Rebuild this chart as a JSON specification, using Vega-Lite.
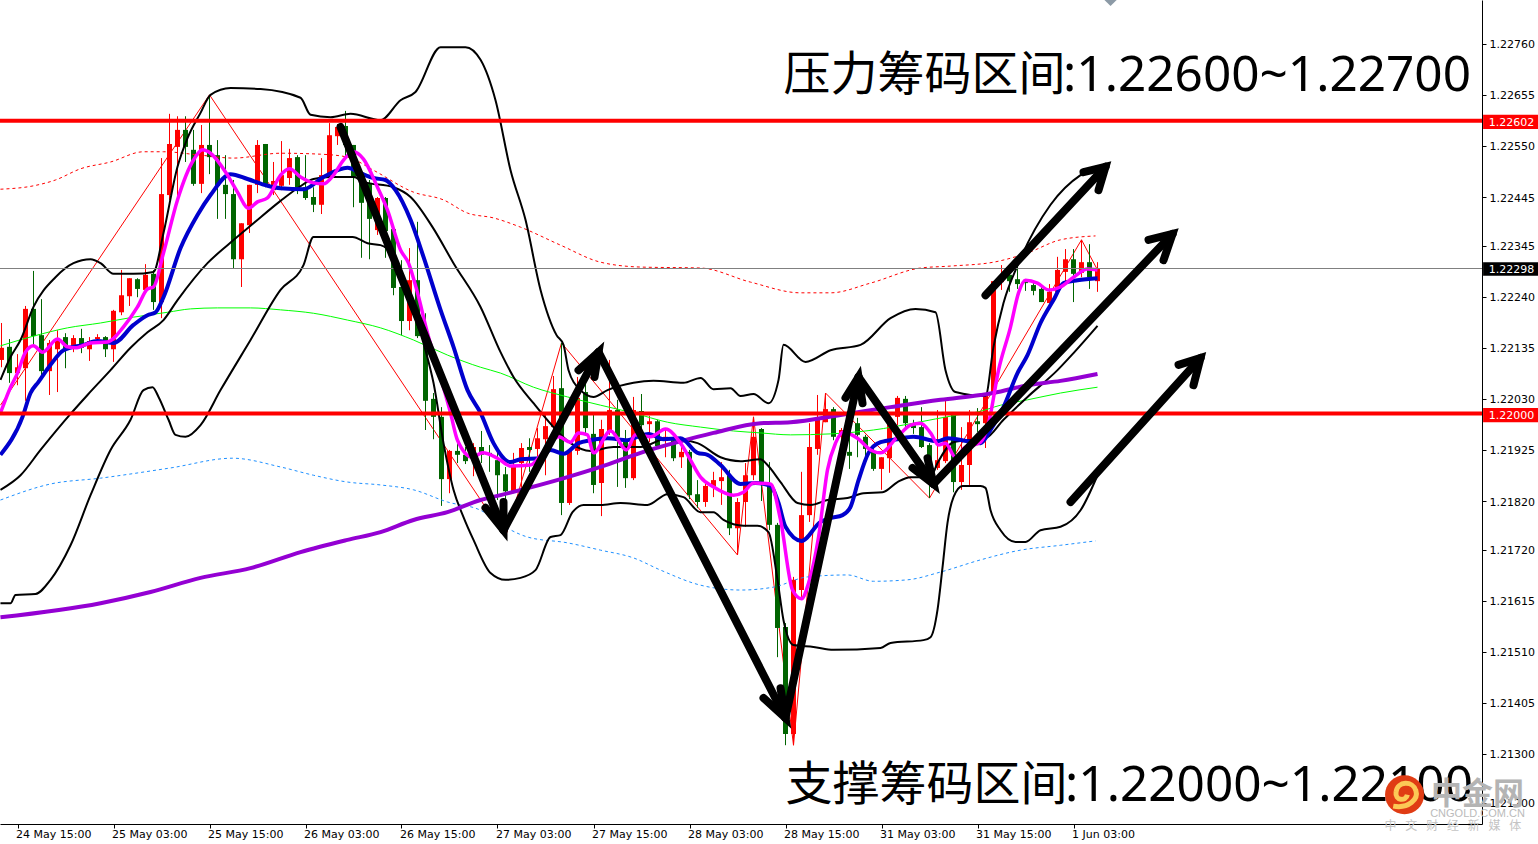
{"$schema":"https://vega.github.io/schema/vega-lite/v6.json","autosize":{"type":"none"},"padding":{"left":0,"top":0,"right":56,"bottom":20},"width":1482,"height":824,"background":"white","config":{"view":{"stroke":null}},
"datasets":{
"candles":[
{"i":0,"o":1.2211,"h":1.22186,"l":1.22095,"c":1.22135},{"i":1,"o":1.22137,"h":1.22153,"l":1.22063,"c":1.22083},{"i":2,"o":1.22083,"h":1.22122,"l":1.22058,"c":1.22095},{"i":3,"o":1.22093,"h":1.22221,"l":1.22026,"c":1.22215},{"i":4,"o":1.22215,"h":1.22293,"l":1.22137,"c":1.22159},{"i":5,"o":1.22161,"h":1.22235,"l":1.22075,"c":1.22087},{"i":6,"o":1.22087,"h":1.22151,"l":1.22038,"c":1.22145},{"i":7,"o":1.22132,"h":1.22171,"l":1.22044,"c":1.22155},{"i":8,"o":1.22157,"h":1.22165,"l":1.22093,"c":1.22132},{"i":9,"o":1.22135,"h":1.22161,"l":1.22126,"c":1.22155},
{"i":10,"o":1.22155,"h":1.22174,"l":1.22124,"c":1.22135},{"i":11,"o":1.22132,"h":1.22157,"l":1.22108,"c":1.22149},{"i":12,"o":1.22153,"h":1.22163,"l":1.22145,"c":1.22157},{"i":13,"o":1.22157,"h":1.22159,"l":1.22116,"c":1.22132},{"i":14,"o":1.22132,"h":1.22213,"l":1.22106,"c":1.22211},{"i":15,"o":1.22208,"h":1.22295,"l":1.22202,"c":1.22243},{"i":16,"o":1.22241,"h":1.22278,"l":1.22221,"c":1.22278},{"i":17,"o":1.22276,"h":1.22278,"l":1.22239,"c":1.22256},{"i":18,"o":1.22254,"h":1.22307,"l":1.2225,"c":1.22285},{"i":19,"o":1.22287,"h":1.22295,"l":1.22213,"c":1.22229},
{"i":20,"o":1.22229,"h":1.22525,"l":1.22196,"c":1.22451},{"i":21,"o":1.22449,"h":1.22616,"l":1.22439,"c":1.22554},{"i":22,"o":1.22548,"h":1.22611,"l":1.22439,"c":1.22583},{"i":23,"o":1.22583,"h":1.22611,"l":1.22517,"c":1.22548},{"i":24,"o":1.22542,"h":1.22583,"l":1.22468,"c":1.22472},{"i":25,"o":1.22472,"h":1.22593,"l":1.22453,"c":1.22552},{"i":26,"o":1.22552,"h":1.22655,"l":1.22492,"c":1.22527},{"i":27,"o":1.22531,"h":1.22562,"l":1.224,"c":1.22468},{"i":28,"o":1.2247,"h":1.22531,"l":1.224,"c":1.22451},{"i":29,"o":1.22451,"h":1.2248,"l":1.22299,"c":1.22317},
{"i":30,"o":1.22317,"h":1.22391,"l":1.2226,"c":1.22391},{"i":31,"o":1.22387,"h":1.2247,"l":1.22371,"c":1.2247},{"i":32,"o":1.2247,"h":1.22562,"l":1.22453,"c":1.22552},{"i":33,"o":1.22554,"h":1.22554,"l":1.22465,"c":1.22468},{"i":34,"o":1.22459,"h":1.22517,"l":1.22449,"c":1.22478},{"i":35,"o":1.22468,"h":1.2256,"l":1.22459,"c":1.2249},{"i":36,"o":1.22484,"h":1.22544,"l":1.2247,"c":1.22525},{"i":37,"o":1.22527,"h":1.22531,"l":1.22451,"c":1.22463},{"i":38,"o":1.22465,"h":1.22531,"l":1.22439,"c":1.22443},{"i":39,"o":1.22445,"h":1.22465,"l":1.22414,"c":1.22429},
{"i":40,"o":1.22429,"h":1.22525,"l":1.2241,"c":1.2249},{"i":41,"o":1.22488,"h":1.22597,"l":1.22484,"c":1.22572},{"i":42,"o":1.2257,"h":1.22595,"l":1.22552,"c":1.22589},{"i":43,"o":1.22591,"h":1.22622,"l":1.22527,"c":1.22552},{"i":44,"o":1.22552,"h":1.22552,"l":1.22424,"c":1.22484},{"i":45,"o":1.22486,"h":1.2249,"l":1.2232,"c":1.22433},{"i":46,"o":1.22474,"h":1.2248,"l":1.22317,"c":1.224},{"i":47,"o":1.22377,"h":1.22445,"l":1.22367,"c":1.22443},{"i":48,"o":1.22443,"h":1.22445,"l":1.2232,"c":1.22375},{"i":49,"o":1.22379,"h":1.22383,"l":1.22243,"c":1.22258},
{"i":50,"o":1.2226,"h":1.22315,"l":1.22161,"c":1.2219},{"i":51,"o":1.2219,"h":1.2234,"l":1.22171,"c":1.22274},{"i":52,"o":1.22274,"h":1.22394,"l":1.22155,"c":1.22159},{"i":53,"o":1.22161,"h":1.22206,"l":1.21966,"c":1.22026},{"i":54,"o":1.2203,"h":1.22042,"l":1.21947,"c":1.21993},{"i":55,"o":1.21993,"h":1.22013,"l":1.2181,"c":1.21865},{"i":56,"o":1.21865,"h":1.21925,"l":1.21836,"c":1.21923},{"i":57,"o":1.21923,"h":1.21939,"l":1.21898,"c":1.21915},{"i":58,"o":1.21915,"h":1.21931,"l":1.21896,"c":1.21902},{"i":59,"o":1.2191,"h":1.21939,"l":1.21871,"c":1.21931},
{"i":60,"o":1.21931,"h":1.21964,"l":1.21898,"c":1.21915},{"i":61,"o":1.21919,"h":1.21935,"l":1.2188,"c":1.21915},{"i":62,"o":1.21904,"h":1.21923,"l":1.21822,"c":1.21873},{"i":63,"o":1.21875,"h":1.2189,"l":1.21746,"c":1.2184},{"i":64,"o":1.2184,"h":1.21919,"l":1.21836,"c":1.21892},{"i":65,"o":1.21898,"h":1.21939,"l":1.21847,"c":1.21929},{"i":66,"o":1.21931,"h":1.21949,"l":1.2188,"c":1.21925},{"i":67,"o":1.21927,"h":1.2197,"l":1.21908,"c":1.21949},{"i":68,"o":1.21947,"h":1.21999,"l":1.21873,"c":1.21974},{"i":69,"o":1.21972,"h":1.22077,"l":1.2196,"c":1.2205},
{"i":70,"o":1.22052,"h":1.22145,"l":1.21791,"c":1.21816},{"i":71,"o":1.21816,"h":1.21925,"l":1.21812,"c":1.21925},{"i":72,"o":1.21923,"h":1.22075,"l":1.21915,"c":1.22032},{"i":73,"o":1.22044,"h":1.22069,"l":1.2196,"c":1.2197},{"i":74,"o":1.21958,"h":1.21997,"l":1.21836,"c":1.21853},{"i":75,"o":1.21857,"h":1.21987,"l":1.21789,"c":1.21968},{"i":76,"o":1.21962,"h":1.2211,"l":1.21956,"c":1.22007},{"i":77,"o":1.22007,"h":1.22028,"l":1.21849,"c":1.21952},{"i":78,"o":1.21945,"h":1.21966,"l":1.21847,"c":1.21867},{"i":79,"o":1.21867,"h":1.22034,"l":1.21863,"c":1.22007},
{"i":80,"o":1.22005,"h":1.2204,"l":1.21956,"c":1.21976},{"i":81,"o":1.21978,"h":1.21995,"l":1.21941,"c":1.21984},{"i":82,"o":1.21984,"h":1.21987,"l":1.21929,"c":1.21933},{"i":83,"o":1.21945,"h":1.21966,"l":1.2191,"c":1.21952},{"i":84,"o":1.21945,"h":1.21949,"l":1.21902,"c":1.21908},{"i":85,"o":1.2191,"h":1.21945,"l":1.21888,"c":1.21921},{"i":86,"o":1.21921,"h":1.21925,"l":1.21824,"c":1.21832},{"i":87,"o":1.21834,"h":1.21863,"l":1.21806,"c":1.21818},{"i":88,"o":1.21818,"h":1.21863,"l":1.21808,"c":1.21851},{"i":89,"o":1.21849,"h":1.2188,"l":1.21828,"c":1.21863},
{"i":90,"o":1.21861,"h":1.219,"l":1.21812,"c":1.21869},{"i":91,"o":1.21873,"h":1.21884,"l":1.2175,"c":1.21764},{"i":92,"o":1.21764,"h":1.21826,"l":1.21709,"c":1.21818},{"i":93,"o":1.21818,"h":1.21898,"l":1.21767,"c":1.21873},{"i":94,"o":1.21873,"h":1.21993,"l":1.21863,"c":1.21952},{"i":95,"o":1.21968,"h":1.2197,"l":1.2182,"c":1.21857},{"i":96,"o":1.21857,"h":1.219,"l":1.2176,"c":1.21771},{"i":97,"o":1.21771,"h":1.21775,"l":1.21499,"c":1.21559},{"i":98,"o":1.21561,"h":1.21569,"l":1.21318,"c":1.21341},{"i":99,"o":1.21341,"h":1.21664,"l":1.21318,"c":1.21658},
{"i":100,"o":1.21637,"h":1.2188,"l":1.21623,"c":1.21791},{"i":101,"o":1.21791,"h":1.2198,"l":1.21777,"c":1.21931},{"i":102,"o":1.21927,"h":1.22038,"l":1.21915,"c":1.21987},{"i":103,"o":1.21982,"h":1.22042,"l":1.21982,"c":1.22009},{"i":104,"o":1.22009,"h":1.22013,"l":1.21945,"c":1.21952},{"i":105,"o":1.21952,"h":1.2197,"l":1.21935,"c":1.21966},{"i":106,"o":1.21921,"h":1.21966,"l":1.21886,"c":1.21913},{"i":107,"o":1.2198,"h":1.21991,"l":1.2191,"c":1.21956},{"i":108,"o":1.21952,"h":1.21956,"l":1.21898,"c":1.21927},{"i":109,"o":1.21921,"h":1.21935,"l":1.21882,"c":1.21886},
{"i":110,"o":1.21886,"h":1.2191,"l":1.21843,"c":1.2191},{"i":111,"o":1.21908,"h":1.22001,"l":1.21878,"c":1.21987},{"i":112,"o":1.21993,"h":1.22036,"l":1.21976,"c":1.22032},{"i":113,"o":1.2203,"h":1.22036,"l":1.21972,"c":1.2198},{"i":114,"o":1.21976,"h":1.21987,"l":1.21958,"c":1.2197},{"i":115,"o":1.21972,"h":1.22013,"l":1.21929,"c":1.21931},{"i":116,"o":1.21935,"h":1.21939,"l":1.21826,"c":1.21884},{"i":117,"o":1.21888,"h":1.22007,"l":1.21884,"c":1.21904},{"i":118,"o":1.21902,"h":1.22026,"l":1.21898,"c":1.21993},{"i":119,"o":1.21997,"h":1.22001,"l":1.21838,"c":1.21859},
{"i":120,"o":1.21859,"h":1.21972,"l":1.21843,"c":1.21894},{"i":121,"o":1.21894,"h":1.22007,"l":1.21853,"c":1.21982},{"i":122,"o":1.21984,"h":1.22011,"l":1.21962,"c":1.21978},{"i":123,"o":1.2198,"h":1.22042,"l":1.21929,"c":1.22038},{"i":124,"o":1.22038,"h":1.22272,"l":1.22034,"c":1.22272},{"i":125,"o":1.2227,"h":1.22305,"l":1.22254,"c":1.22282},{"i":126,"o":1.22285,"h":1.22291,"l":1.2225,"c":1.22272},{"i":127,"o":1.22276,"h":1.22311,"l":1.22256,"c":1.22266},{"i":128,"o":1.22272,"h":1.22274,"l":1.22252,"c":1.22268},{"i":129,"o":1.22264,"h":1.22268,"l":1.22243,"c":1.22252},
{"i":130,"o":1.22256,"h":1.22264,"l":1.22229,"c":1.22229},{"i":131,"o":1.22227,"h":1.22266,"l":1.22227,"c":1.2225},{"i":132,"o":1.2225,"h":1.22322,"l":1.22248,"c":1.22295},{"i":133,"o":1.22291,"h":1.22338,"l":1.2227,"c":1.22317},{"i":134,"o":1.22317,"h":1.22338,"l":1.22229,"c":1.22287},{"i":135,"o":1.22289,"h":1.22357,"l":1.2228,"c":1.22311},{"i":136,"o":1.22311,"h":1.22348,"l":1.22256,"c":1.2228},{"i":137,"o":1.22272,"h":1.22311,"l":1.2225,"c":1.22298}],
"bb":[
{"s":"u","i":-0.13,"p":1.22069},{"s":"u","i":1.13,"p":1.22116},{"s":"u","i":2.38,"p":1.22151},{"s":"u","i":4,"p":1.22219},{"s":"u","i":6.75,"p":1.2228},{"s":"u","i":9,"p":1.22309},{"s":"u","i":11.13,"p":1.22317},{"s":"u","i":12.38,"p":1.22309},{"s":"u","i":14,"p":1.22287},{"s":"u","i":16.5,"p":1.22287},{"s":"u","i":19,"p":1.22291},{"s":"u","i":20.25,"p":1.22371},{"s":"u","i":22,"p":1.22507},{"s":"u","i":23.25,"p":1.22566},{"s":"u","i":24.88,"p":1.22618},{"s":"u","i":26.13,"p":1.22655},{"s":"u","i":28.63,"p":1.22669},{"s":"u","i":32.38,"p":1.22667},{"s":"u","i":37.38,"p":1.22649},{"s":"u","i":38.63,"p":1.22614},{"s":"u","i":41.13,"p":1.22609},{"s":"u","i":43.63,"p":1.22616},{"s":"u","i":47.38,"p":1.22603},{"s":"u","i":49.88,"p":1.22644},{"s":"u","i":51.75,"p":1.22661},{"s":"u","i":54.88,"p":1.22753},{"s":"u","i":58,"p":1.22753},{"s":"u","i":59.88,"p":1.22727},{"s":"u","i":61.75,"p":1.22644},{"s":"u","i":63.63,"p":1.225},{"s":"u","i":65.5,"p":1.22398},{"s":"u","i":67.38,"p":1.22254},{"s":"u","i":69.38,"p":1.22161},{"s":"u","i":70.25,"p":1.22141},{"s":"u","i":70.88,"p":1.22089},{"s":"u","i":72.38,"p":1.22048},{"s":"u","i":74,"p":1.22034},{"s":"u","i":75.75,"p":1.22048},{"s":"u","i":79,"p":1.22063},{"s":"u","i":81.5,"p":1.22067},{"s":"u","i":85.25,"p":1.22063},{"s":"u","i":87.38,"p":1.22073},{"s":"u","i":89,"p":1.2205},{"s":"u","i":91.13,"p":1.22052},{"s":"u","i":92.38,"p":1.22036},{"s":"u","i":94,"p":1.2204},{"s":"u","i":95.88,"p":1.22021},{"s":"u","i":97.13,"p":1.22069},{"s":"u","i":97.75,"p":1.22141},{"s":"u","i":100.5,"p":1.22106},{"s":"u","i":103.63,"p":1.2213},{"s":"u","i":107.38,"p":1.22141},{"s":"u","i":111.13,"p":1.22196},{"s":"u","i":114.25,"p":1.22215},{"s":"u","i":116.75,"p":1.22208},{"s":"u","i":118,"p":1.22089},{"s":"u","i":119.25,"p":1.22044},{"s":"u","i":123,"p":1.22036},{"s":"u","i":124,"p":1.22137},{"s":"u","i":125.25,"p":1.22227},{"s":"u","i":127.13,"p":1.22309},{"s":"u","i":131.13,"p":1.22429},{"s":"u","i":134.88,"p":1.2249},{"s":"u","i":137,"p":1.22507},
{"s":"m","i":-0.13,"p":1.21843},{"s":"m","i":2.38,"p":1.21873},{"s":"m","i":4.88,"p":1.21925},{"s":"m","i":8.63,"p":1.21999},{"s":"m","i":10.75,"p":1.22038},{"s":"m","i":13.63,"p":1.22089},{"s":"m","i":16.13,"p":1.22135},{"s":"m","i":18.25,"p":1.22167},{"s":"m","i":20.25,"p":1.22192},{"s":"m","i":22,"p":1.22233},{"s":"m","i":25.75,"p":1.22309},{"s":"m","i":28.25,"p":1.22346},{"s":"m","i":31.5,"p":1.22391},{"s":"m","i":34.88,"p":1.22437},{"s":"m","i":37,"p":1.22463},{"s":"m","i":39,"p":1.22482},{"s":"m","i":41.13,"p":1.22486},{"s":"m","i":44,"p":1.22486},{"s":"m","i":45.25,"p":1.22476},{"s":"m","i":49,"p":1.22465},{"s":"m","i":51.13,"p":1.22445},{"s":"m","i":53.88,"p":1.22383},{"s":"m","i":56.5,"p":1.22309},{"s":"m","i":59.88,"p":1.22219},{"s":"m","i":62.38,"p":1.22126},{"s":"m","i":64,"p":1.22075},{"s":"m","i":66.5,"p":1.22021},{"s":"m","i":69,"p":1.21972},{"s":"m","i":71.13,"p":1.21939},{"s":"m","i":73.63,"p":1.21923},{"s":"m","i":76.5,"p":1.21931},{"s":"m","i":79.88,"p":1.21931},{"s":"m","i":83.25,"p":1.21949},{"s":"m","i":87,"p":1.21939},{"s":"m","i":89.88,"p":1.2191},{"s":"m","i":92.38,"p":1.21902},{"s":"m","i":94.88,"p":1.21906},{"s":"m","i":95.75,"p":1.21894},{"s":"m","i":97.38,"p":1.21859},{"s":"m","i":99.5,"p":1.21816},{"s":"m","i":101.13,"p":1.21812},{"s":"m","i":103.25,"p":1.21822},{"s":"m","i":105.75,"p":1.21826},{"s":"m","i":107.75,"p":1.21836},{"s":"m","i":110.13,"p":1.21838},{"s":"m","i":112,"p":1.21859},{"s":"m","i":113.63,"p":1.21869},{"s":"m","i":116.13,"p":1.21869},{"s":"m","i":117,"p":1.21898},{"s":"m","i":119,"p":1.21941},{"s":"m","i":123,"p":1.21949},{"s":"m","i":125.25,"p":1.21987},{"s":"m","i":128.25,"p":1.22034},{"s":"m","i":132,"p":1.22089},{"s":"m","i":134,"p":1.22124},{"s":"m","i":137,"p":1.2218},
{"s":"l","i":-0.13,"p":1.2161},{"s":"l","i":1.13,"p":1.2161},{"s":"l","i":1.75,"p":1.21627},{"s":"l","i":4.25,"p":1.21629},{"s":"l","i":6.13,"p":1.21658},{"s":"l","i":8.63,"p":1.21729},{"s":"l","i":11.13,"p":1.21832},{"s":"l","i":13.63,"p":1.21925},{"s":"l","i":16.13,"p":1.21987},{"s":"l","i":17.75,"p":1.22048},{"s":"l","i":18.88,"p":1.22054},{"s":"l","i":19.63,"p":1.22034},{"s":"l","i":20.88,"p":1.21987},{"s":"l","i":21.75,"p":1.21956},{"s":"l","i":23,"p":1.21952},{"s":"l","i":24.88,"p":1.21976},{"s":"l","i":27.38,"p":1.22048},{"s":"l","i":31.13,"p":1.22151},{"s":"l","i":34.88,"p":1.22254},{"s":"l","i":37.75,"p":1.22305},{"s":"l","i":39,"p":1.22363},{"s":"l","i":43.88,"p":1.22363},{"s":"l","i":45.75,"p":1.2235},{"s":"l","i":47.38,"p":1.22346},{"s":"l","i":49,"p":1.22322},{"s":"l","i":51.13,"p":1.22223},{"s":"l","i":53,"p":1.2213},{"s":"l","i":54,"p":1.22063},{"s":"l","i":55.25,"p":1.21939},{"s":"l","i":56.5,"p":1.21843},{"s":"l","i":57.75,"p":1.21787},{"s":"l","i":59,"p":1.2174},{"s":"l","i":61.13,"p":1.21672},{"s":"l","i":63,"p":1.21658},{"s":"l","i":64.88,"p":1.21662},{"s":"l","i":66.75,"p":1.21678},{"s":"l","i":68.63,"p":1.21746},{"s":"l","i":69.88,"p":1.2175},{"s":"l","i":71.38,"p":1.21797},{"s":"l","i":72.75,"p":1.21812},{"s":"l","i":74.88,"p":1.21812},{"s":"l","i":77.38,"p":1.21816},{"s":"l","i":80.75,"p":1.21812},{"s":"l","i":83.25,"p":1.21834},{"s":"l","i":85.25,"p":1.21828},{"s":"l","i":87.38,"p":1.21797},{"s":"l","i":89,"p":1.21797},{"s":"l","i":90.25,"p":1.21781},{"s":"l","i":92.75,"p":1.21769},{"s":"l","i":94.5,"p":1.21769},{"s":"l","i":95.88,"p":1.21756},{"s":"l","i":97,"p":1.21658},{"s":"l","i":97.75,"p":1.21575},{"s":"l","i":99,"p":1.21524},{"s":"l","i":101.5,"p":1.2152},{"s":"l","i":104,"p":1.21514},{"s":"l","i":109.88,"p":1.21518},{"s":"l","i":111.13,"p":1.21528},{"s":"l","i":115.25,"p":1.21534},{"s":"l","i":116.13,"p":1.2154},{"s":"l","i":117,"p":1.21596},{"s":"l","i":117.63,"p":1.21684},{"s":"l","i":118.25,"p":1.21775},{"s":"l","i":119,"p":1.21828},{"s":"l","i":120.13,"p":1.21851},{"s":"l","i":122.38,"p":1.21851},{"s":"l","i":123,"p":1.21847},{"s":"l","i":123.63,"p":1.21801},{"s":"l","i":124.88,"p":1.2176},{"s":"l","i":126.75,"p":1.21736},{"s":"l","i":128,"p":1.21736},{"s":"l","i":129.88,"p":1.2176},{"s":"l","i":132.38,"p":1.21767},{"s":"l","i":134.88,"p":1.21801},{"s":"l","i":137,"p":1.21873}],
"blue":[{"i":-0.13,"p":1.21915},{"i":2.63,"p":1.21993},{"i":3.63,"p":1.22042},{"i":4.63,"p":1.22065},{"i":6.13,"p":1.221},{"i":7.75,"p":1.2213},{"i":10.25,"p":1.22141},{"i":12,"p":1.22149},{"i":14,"p":1.22145},{"i":16.5,"p":1.22182},{"i":18.25,"p":1.22202},{"i":19.25,"p":1.22208},{"i":20.25,"p":1.22239},{"i":22.38,"p":1.2234},{"i":24.5,"p":1.22408},{"i":26.13,"p":1.22449},{"i":28.63,"p":1.22492},{"i":30.75,"p":1.22482},{"i":33.25,"p":1.22468},{"i":34.88,"p":1.22463},{"i":37.75,"p":1.22461},{"i":40.25,"p":1.22486},{"i":43.25,"p":1.22505},{"i":44.88,"p":1.22494},{"i":46.5,"p":1.22484},{"i":48,"p":1.2248},{"i":49.25,"p":1.22459},{"i":51.13,"p":1.22398},{"i":52.75,"p":1.22322},{"i":54.88,"p":1.22213},{"i":56.5,"p":1.22137},{"i":58.25,"p":1.22048},{"i":59.88,"p":1.22001},{"i":61.5,"p":1.21939},{"i":63.63,"p":1.219},{"i":64.88,"p":1.21906},{"i":67.38,"p":1.21908},{"i":68.63,"p":1.21925},{"i":70.25,"p":1.21917},{"i":72.13,"p":1.21939},{"i":73.63,"p":1.21945},{"i":75.75,"p":1.21949},{"i":78.25,"p":1.21945},{"i":79.5,"p":1.21952},{"i":80.88,"p":1.21958},{"i":82.75,"p":1.21947},{"i":84.88,"p":1.21949},{"i":87,"p":1.21919},{"i":88.25,"p":1.21915},{"i":89.88,"p":1.21894},{"i":92.38,"p":1.21855},{"i":94.25,"p":1.21857},{"i":96.13,"p":1.21851},{"i":97.13,"p":1.21816},{"i":98,"p":1.21767},{"i":100,"p":1.21738},{"i":102.38,"p":1.21777},{"i":103.63,"p":1.21785},{"i":105.13,"p":1.21791},{"i":106.13,"p":1.21808},{"i":107.13,"p":1.21863},{"i":108.38,"p":1.21919},{"i":109.88,"p":1.21941},{"i":112,"p":1.21947},{"i":114,"p":1.21952},{"i":117,"p":1.21943},{"i":118.25,"p":1.21949},{"i":120.75,"p":1.21943},{"i":122.38,"p":1.21939},{"i":123.63,"p":1.21966},{"i":125.25,"p":1.22013},{"i":127,"p":1.22083},{"i":128.25,"p":1.2212},{"i":129.88,"p":1.22186},{"i":131.5,"p":1.22233},{"i":132.75,"p":1.22268},{"i":134.5,"p":1.22274},{"i":137,"p":1.22278}],
"magenta":[{"i":-0.13,"p":1.22001},{"i":1.13,"p":1.22054},{"i":2,"p":1.22083},{"i":3,"p":1.22126},{"i":4,"p":1.22139},{"i":5.13,"p":1.22126},{"i":7,"p":1.22153},{"i":8.25,"p":1.22137},{"i":9.25,"p":1.22135},{"i":11.13,"p":1.22145},{"i":13.25,"p":1.22147},{"i":15.25,"p":1.22178},{"i":17,"p":1.22219},{"i":18.25,"p":1.22256},{"i":19,"p":1.2226},{"i":20.25,"p":1.2233},{"i":22,"p":1.22439},{"i":24,"p":1.22521},{"i":25.13,"p":1.22542},{"i":26.13,"p":1.22535},{"i":28.25,"p":1.2249},{"i":29.5,"p":1.22455},{"i":30.88,"p":1.22422},{"i":32,"p":1.22435},{"i":33.25,"p":1.22443},{"i":34.88,"p":1.2249},{"i":36,"p":1.22503},{"i":37.38,"p":1.22486},{"i":39,"p":1.22474},{"i":40.25,"p":1.22472},{"i":41.5,"p":1.2249},{"i":42.75,"p":1.22521},{"i":44,"p":1.22538},{"i":45.25,"p":1.22523},{"i":47,"p":1.22465},{"i":48.25,"p":1.22418},{"i":49.88,"p":1.22336},{"i":50.88,"p":1.22309},{"i":52,"p":1.22248},{"i":53.25,"p":1.22165},{"i":54.88,"p":1.22075},{"i":56.13,"p":1.22001},{"i":57,"p":1.21945},{"i":58.88,"p":1.2191},{"i":60.13,"p":1.21919},{"i":62,"p":1.21908},{"i":63.63,"p":1.21892},{"i":66.13,"p":1.21894},{"i":67.75,"p":1.21921},{"i":69.63,"p":1.21952},{"i":71.13,"p":1.21941},{"i":72.13,"p":1.2196},{"i":73.25,"p":1.21956},{"i":74,"p":1.21919},{"i":76.13,"p":1.21964},{"i":78.13,"p":1.21925},{"i":79.25,"p":1.21956},{"i":81.13,"p":1.21952},{"i":83,"p":1.21968},{"i":84.88,"p":1.21939},{"i":86.13,"p":1.21904},{"i":87.38,"p":1.21869},{"i":89,"p":1.21849},{"i":91.5,"p":1.21832},{"i":92.75,"p":1.21838},{"i":94,"p":1.21857},{"i":96.13,"p":1.21855},{"i":97.38,"p":1.21781},{"i":98.88,"p":1.21637},{"i":100,"p":1.21619},{"i":100.88,"p":1.21651},{"i":102.13,"p":1.21746},{"i":103.25,"p":1.21884},{"i":104.25,"p":1.21939},{"i":105.25,"p":1.21962},{"i":107,"p":1.21949},{"i":108.63,"p":1.21925},{"i":109.88,"p":1.21919},{"i":112,"p":1.21952},{"i":113.63,"p":1.21976},{"i":114.88,"p":1.2198},{"i":116.13,"p":1.2196},{"i":117.13,"p":1.21935},{"i":118,"p":1.21939},{"i":119.25,"p":1.2191},{"i":120.5,"p":1.21931},{"i":121.5,"p":1.21935},{"i":122.38,"p":1.21941},{"i":123.38,"p":1.2198},{"i":124.63,"p":1.22089},{"i":126.13,"p":1.22178},{"i":127.13,"p":1.22248},{"i":128,"p":1.22274},{"i":129.5,"p":1.22268},{"i":130.88,"p":1.22254},{"i":132.38,"p":1.2226},{"i":134,"p":1.2228},{"i":135.75,"p":1.22297},{"i":137,"p":1.22295}],
"purple":[{"i":-0.13,"p":1.21581},{"i":12.38,"p":1.2161},{"i":18.63,"p":1.21633},{"i":24.88,"p":1.21662},{"i":31.13,"p":1.21682},{"i":37.38,"p":1.21715},{"i":43.25,"p":1.2174},{"i":47.38,"p":1.21756},{"i":51.5,"p":1.21781},{"i":55.75,"p":1.21797},{"i":59.88,"p":1.21822},{"i":62.38,"p":1.21832},{"i":70.75,"p":1.21869},{"i":74.88,"p":1.2189},{"i":80.25,"p":1.21921},{"i":84.5,"p":1.21941},{"i":89,"p":1.2196},{"i":94.88,"p":1.2198},{"i":98.63,"p":1.21982},{"i":104.88,"p":1.21997},{"i":111.13,"p":1.22013},{"i":117.38,"p":1.22028},{"i":122.38,"p":1.22038},{"i":124,"p":1.22042},{"i":128.25,"p":1.22058},{"i":132.38,"p":1.22067},{"i":137,"p":1.22081}],
"green":[{"i":-0.13,"p":1.22139},{"i":4,"p":1.22159},{"i":8.25,"p":1.22176},{"i":12.38,"p":1.22186},{"i":16.5,"p":1.22198},{"i":20.75,"p":1.22208},{"i":23.63,"p":1.22215},{"i":27,"p":1.22217},{"i":31.13,"p":1.22217},{"i":34.88,"p":1.22213},{"i":39,"p":1.22206},{"i":43.25,"p":1.22192},{"i":47.38,"p":1.22176},{"i":51.5,"p":1.22151},{"i":55.75,"p":1.2212},{"i":59.88,"p":1.22095},{"i":62.38,"p":1.22083},{"i":66.5,"p":1.22054},{"i":70.75,"p":1.22034},{"i":74.88,"p":1.22017},{"i":79,"p":1.22001},{"i":83.25,"p":1.21982},{"i":87.38,"p":1.21972},{"i":91.5,"p":1.21964},{"i":94.88,"p":1.2196},{"i":98.63,"p":1.21956},{"i":103.63,"p":1.21958},{"i":109,"p":1.21966},{"i":114,"p":1.2198},{"i":119.5,"p":1.21997},{"i":122,"p":1.22003},{"i":124.88,"p":1.22017},{"i":128.25,"p":1.22028},{"i":132.38,"p":1.22042},{"i":137,"p":1.22054}],
"redEnv":[{"i":-0.13,"p":1.22461},{"i":4,"p":1.22468},{"i":6.75,"p":1.2248},{"i":9.88,"p":1.22503},{"i":13.63,"p":1.22517},{"i":17.75,"p":1.22538},{"i":20.25,"p":1.22538},{"i":24.88,"p":1.22531},{"i":29,"p":1.22525},{"i":34.88,"p":1.22535},{"i":39.88,"p":1.22533},{"i":43.25,"p":1.22527},{"i":46.5,"p":1.225},{"i":51.5,"p":1.22455},{"i":55.25,"p":1.22439},{"i":58.25,"p":1.22412},{"i":61.5,"p":1.22402},{"i":64.88,"p":1.22383},{"i":69.88,"p":1.22346},{"i":74.88,"p":1.22311},{"i":79.88,"p":1.22301},{"i":87.38,"p":1.22299},{"i":93.63,"p":1.2227},{"i":99.88,"p":1.22248},{"i":103.63,"p":1.22248},{"i":108.63,"p":1.22268},{"i":114.88,"p":1.22299},{"i":118.63,"p":1.22303},{"i":124,"p":1.22311},{"i":128.25,"p":1.2233},{"i":132.38,"p":1.22357},{"i":136.75,"p":1.22365}],
"blueEnv":[{"i":-0.13,"p":1.21822},{"i":6.13,"p":1.21855},{"i":12.38,"p":1.21867},{"i":21.13,"p":1.21888},{"i":28.88,"p":1.21908},{"i":34.88,"p":1.2189},{"i":39,"p":1.21873},{"i":43.25,"p":1.21859},{"i":47.38,"p":1.21853},{"i":51.5,"p":1.21843},{"i":55.75,"p":1.21818},{"i":59.88,"p":1.21801},{"i":63.25,"p":1.21764},{"i":65.75,"p":1.21746},{"i":70.75,"p":1.21734},{"i":74.88,"p":1.21719},{"i":79,"p":1.21703},{"i":82.38,"p":1.21678},{"i":87.38,"p":1.21647},{"i":92.38,"p":1.21637},{"i":96.5,"p":1.21643},{"i":100.75,"p":1.21664},{"i":105.75,"p":1.21668},{"i":109,"p":1.21655},{"i":113.25,"p":1.21658},{"i":117.38,"p":1.21674},{"i":122.38,"p":1.21699},{"i":127.38,"p":1.21719},{"i":132.38,"p":1.21729},{"i":136.75,"p":1.21738}],
"zigzag":[{"i":-0.13,"p":1.22017},{"i":26,"p":1.22655},{"i":63,"p":1.21746},{"i":70,"p":1.22145},{"i":92,"p":1.21709},{"i":94,"p":1.21993},{"i":99,"p":1.21318},{"i":103,"p":1.22042},{"i":116,"p":1.21826},{"i":135,"p":1.22357},{"i":137,"p":1.22295}],
"arrows":[
{"g":"a1","n":1,"i":42.38,"p":1.22589},{"g":"a1","n":2,"i":62.75,"p":1.2176},{"g":"h1","n":1,"i":60.5,"p":1.21806},{"g":"h1","n":2,"i":62.75,"p":1.2176},{"g":"h1","n":3,"i":62.75,"p":1.21818},
{"g":"a2","n":1,"i":62.75,"p":1.2176},{"g":"a2","n":2,"i":74.63,"p":1.22126},{"g":"h2","n":1,"i":72.13,"p":1.22089},{"g":"h2","n":2,"i":74.63,"p":1.22126},{"g":"h2","n":3,"i":74.13,"p":1.22075},
{"g":"a3","n":1,"i":74.63,"p":1.22126},{"g":"a3","n":2,"i":98,"p":1.21374},{"g":"h3","n":1,"i":95.25,"p":1.21415},{"g":"h3","n":2,"i":98,"p":1.21374},{"g":"h3","n":3,"i":97.38,"p":1.21435},
{"g":"a4","n":1,"i":98,"p":1.21374},{"g":"a4","n":2,"i":107.13,"p":1.22075},{"g":"h4","n":1,"i":105.5,"p":1.22032},{"g":"h4","n":2,"i":107.13,"p":1.22075},{"g":"h4","n":3,"i":107.63,"p":1.22021},
{"g":"a5","n":1,"i":107.13,"p":1.22075},{"g":"a5","n":2,"i":116.5,"p":1.21855},{"g":"h5","n":1,"i":113.88,"p":1.21888},{"g":"h5","n":2,"i":116.5,"p":1.21855},{"g":"h5","n":3,"i":115.75,"p":1.21908},
{"g":"a6","n":1,"i":116.5,"p":1.21855},{"g":"a6","n":2,"i":146.38,"p":1.22369},{"g":"h6","n":1,"i":143.38,"p":1.22357},{"g":"h6","n":2,"i":146.38,"p":1.22369},{"g":"h6","n":3,"i":145.25,"p":1.22315},
{"g":"a7","n":1,"i":123,"p":1.22243},{"g":"a7","n":2,"i":138,"p":1.22507},{"g":"h7","n":1,"i":135.25,"p":1.22496},{"g":"h7","n":2,"i":138,"p":1.22507},{"g":"h7","n":3,"i":137.13,"p":1.22459},
{"g":"a8","n":1,"i":133.63,"p":1.21818},{"g":"a8","n":2,"i":149.88,"p":1.22114},{"g":"h8","n":1,"i":147.13,"p":1.221},{"g":"h8","n":2,"i":149.88,"p":1.22114},{"g":"h8","n":3,"i":149,"p":1.22058}],
"tags":[{"t":"1.22602","a":1.22614,"b":1.22585,"m":1.22598,"f":"#ff0000"},{"t":"1.22298","a":1.22311,"b":1.22283,"m":1.22295,"f":"#000000"},{"t":"1.22000","a":1.22011,"b":1.21982,"m":1.21995,"f":"#ff0000"}],
"wmSmall":[{"t":"中","i":173.63,"p":1.21152},{"t":"文","i":176.23,"p":1.21152},{"t":"财","i":178.83,"p":1.21152},{"t":"经","i":181.43,"p":1.21152},{"t":"新","i":184.03,"p":1.21152},{"t":"媒","i":186.63,"p":1.21152},{"t":"体","i":189.23,"p":1.21152}]
},
"layer":[
{"data":{"name":"zigzag"},"mark":{"type":"line","color":"#ff0000","strokeWidth":1},"encoding":{
"x":{"field":"i","type":"quantitative","title":null,"scale":{"domain":[-0.1875,185.0625],"nice":false,"zero":false},"axis":{"orient":"bottom","values":[2,14,26,38,50,62,74,86,98,110,122,134],"labelExpr":"['24 May 15:00','25 May 03:00','25 May 15:00','26 May 03:00','26 May 15:00','27 May 03:00','27 May 15:00','28 May 03:00','28 May 15:00','31 May 03:00','31 May 15:00','1 Jun 03:00'][round((datum.value-2)/12)]","labelAlign":"left","labelFont":"DejaVu Sans","labelFontSize":11,"labelColor":"#000000","labelPadding":0,"labelOffset":-2,"tickSize":4,"tickColor":"#000000","domainColor":"#000000","grid":false,"labelOverlap":false,"labelFlush":false,"labelBound":false,"title":null}},
"y":{"field":"p","type":"quantitative","title":null,"scale":{"domain":[1.21156,1.2285],"nice":false,"zero":false},"axis":{"orient":"right","values":[1.2276,1.22655,1.2255,1.22445,1.22345,1.2224,1.22135,1.2203,1.21925,1.2182,1.2172,1.21615,1.2151,1.21405,1.213,1.212],"format":".5f","labelFont":"DejaVu Sans","labelFontSize":11,"labelColor":"#000000","labelPadding":3,"labelOffset":1,"tickSize":4,"tickColor":"#000000","domainColor":"#000000","grid":false,"labelOverlap":false,"labelFlush":false,"labelBound":false,"title":null}}}},
{"data":{"name":"candles"},"mark":{"type":"rule","strokeWidth":1},"encoding":{"x":{"field":"i","type":"quantitative"},"y":{"field":"l","type":"quantitative"},"y2":{"field":"h"},"color":{"condition":{"test":"datum.c>=datum.o","value":"#ff0000"},"value":"#006400"}}},
{"data":{"name":"candles"},"mark":{"type":"rule","strokeWidth":5},"encoding":{"x":{"field":"i","type":"quantitative"},"y":{"field":"o","type":"quantitative"},"y2":{"field":"c"},"color":{"condition":{"test":"datum.c>=datum.o","value":"#ff0000"},"value":"#006400"}}},
{"data":{"name":"redEnv"},"mark":{"type":"line","color":"#ff0000","strokeWidth":1,"strokeDash":[3,3],"interpolate":"monotone"},"encoding":{"x":{"field":"i","type":"quantitative"},"y":{"field":"p","type":"quantitative"}}},
{"data":{"name":"blueEnv"},"mark":{"type":"line","color":"#1e90ff","strokeWidth":1,"strokeDash":[3,3],"interpolate":"monotone"},"encoding":{"x":{"field":"i","type":"quantitative"},"y":{"field":"p","type":"quantitative"}}},
{"data":{"name":"green"},"mark":{"type":"line","color":"#00ff00","strokeWidth":1,"interpolate":"monotone"},"encoding":{"x":{"field":"i","type":"quantitative"},"y":{"field":"p","type":"quantitative"}}},
{"data":{"name":"bb"},"mark":{"type":"line","color":"#000000","strokeWidth":2,"interpolate":"monotone"},"encoding":{"x":{"field":"i","type":"quantitative"},"y":{"field":"p","type":"quantitative"},"detail":{"field":"s"}}},
{"data":{"name":"purple"},"mark":{"type":"line","color":"#9400d3","strokeWidth":4,"interpolate":"monotone"},"encoding":{"x":{"field":"i","type":"quantitative"},"y":{"field":"p","type":"quantitative"}}},
{"data":{"name":"blue"},"mark":{"type":"line","color":"#0000cd","strokeWidth":4,"interpolate":"monotone"},"encoding":{"x":{"field":"i","type":"quantitative"},"y":{"field":"p","type":"quantitative"}}},
{"data":{"name":"magenta"},"mark":{"type":"line","color":"#ff00ff","strokeWidth":3.5,"interpolate":"monotone"},"encoding":{"x":{"field":"i","type":"quantitative"},"y":{"field":"p","type":"quantitative"}}},
{"data":{"values":[{"p":1.22298}]},"mark":{"type":"rule","color":"#808080","strokeWidth":1},"encoding":{"y":{"field":"p","type":"quantitative"}}},
{"data":{"values":[{"p":1.22602},{"p":1.22}]},"mark":{"type":"rule","color":"#ff0000","strokeWidth":4},"encoding":{"y":{"field":"p","type":"quantitative"}}},
{"data":{"name":"arrows"},"mark":{"type":"line","color":"#000000","strokeWidth":8,"strokeCap":"round","strokeJoin":"miter"},"encoding":{"x":{"field":"i","type":"quantitative"},"y":{"field":"p","type":"quantitative"},"detail":{"field":"g"},"order":{"field":"n"}}},
{"data":{"name":"tags"},"mark":{"type":"rect"},"encoding":{"x":{"datum":185.2},"x2":{"datum":192.2},"y":{"field":"a","type":"quantitative"},"y2":{"field":"b"},"fill":{"field":"f","type":"nominal","scale":null}}},
{"data":{"name":"tags"},"mark":{"type":"text","align":"left","baseline":"middle","font":"DejaVu Sans","fontSize":11,"color":"#ffffff"},"encoding":{"x":{"datum":185.9},"y":{"field":"m","type":"quantitative"},"text":{"field":"t"}}},
{"data":{"values":[{"t":"压力筹码区间","i":97.75,"p":1.22694},{"t":"支撑筹码区间","i":98,"p":1.21234}]},"mark":{"type":"text","align":"left","baseline":"middle","font":"Noto Sans CJK SC","fontSize":47,"color":"#000000"},"encoding":{"x":{"field":"i","type":"quantitative"},"y":{"field":"p","type":"quantitative"},"text":{"field":"t"}}},
{"data":{"values":[{"t":":1.22600~1.22700","i":132.7,"p":1.22694},{"t":":1.22000~1.22100","i":132.95,"p":1.21234}]},"mark":{"type":"text","align":"left","baseline":"middle","font":"Noto Sans","fontSize":49.5,"color":"#000000"},"encoding":{"x":{"field":"i","type":"quantitative"},"y":{"field":"p","type":"quantitative"},"text":{"field":"t"}}},
{"data":{"values":[{"i":138.63,"p":1.2285}]},"mark":{"type":"point","shape":"diamond","filled":true,"size":150,"color":"#8c9aa6","opacity":1},"encoding":{"x":{"field":"i","type":"quantitative"},"y":{"field":"p","type":"quantitative"}}},
{"data":{"values":[{"i":175.38,"p":1.21216}]},"mark":{"type":"point","shape":"circle","filled":true,"size":1520,"color":"#e03c14","opacity":1},"encoding":{"x":{"field":"i","type":"quantitative"},"y":{"field":"p","type":"quantitative"}}},
{"data":{"values":[{"i":175.38,"p":1.21216}]},"mark":{"type":"point","shape":"M-0.8,0.8 C0.3,1 1,0.3 0.8,-0.3 C0.6,-1 -0.5,-1 -0.6,-0.2 C-0.7,0.4 0.1,0.5 0.2,0","filled":false,"size":800,"stroke":"#fcc956","strokeWidth":5,"opacity":1},"encoding":{"x":{"field":"i","type":"quantitative"},"y":{"field":"p","type":"quantitative"}}},
{"data":{"values":[{"t":"中金网","i":184.5,"p":1.21216}]},"mark":{"type":"text","align":"center","baseline":"middle","font":"Noto Sans CJK SC","fontWeight":"bold","fontSize":31,"color":"#b4b4b4"},"encoding":{"x":{"field":"i","type":"quantitative"},"y":{"field":"p","type":"quantitative"},"text":{"field":"t"}}},
{"data":{"values":[{"t":"CNGOLD.COM.CN","i":184.5,"p":1.21177}]},"mark":{"type":"text","align":"center","baseline":"middle","font":"Liberation Sans","fontSize":11,"color":"#bbbbbb"},"encoding":{"x":{"field":"i","type":"quantitative"},"y":{"field":"p","type":"quantitative"},"text":{"field":"t"}}},
{"data":{"name":"wmSmall"},"mark":{"type":"text","align":"center","baseline":"middle","font":"Noto Sans CJK SC","fontSize":12,"color":"#c4c4c4"},"encoding":{"x":{"field":"i","type":"quantitative"},"y":{"field":"p","type":"quantitative"},"text":{"field":"t"}}}
]}
